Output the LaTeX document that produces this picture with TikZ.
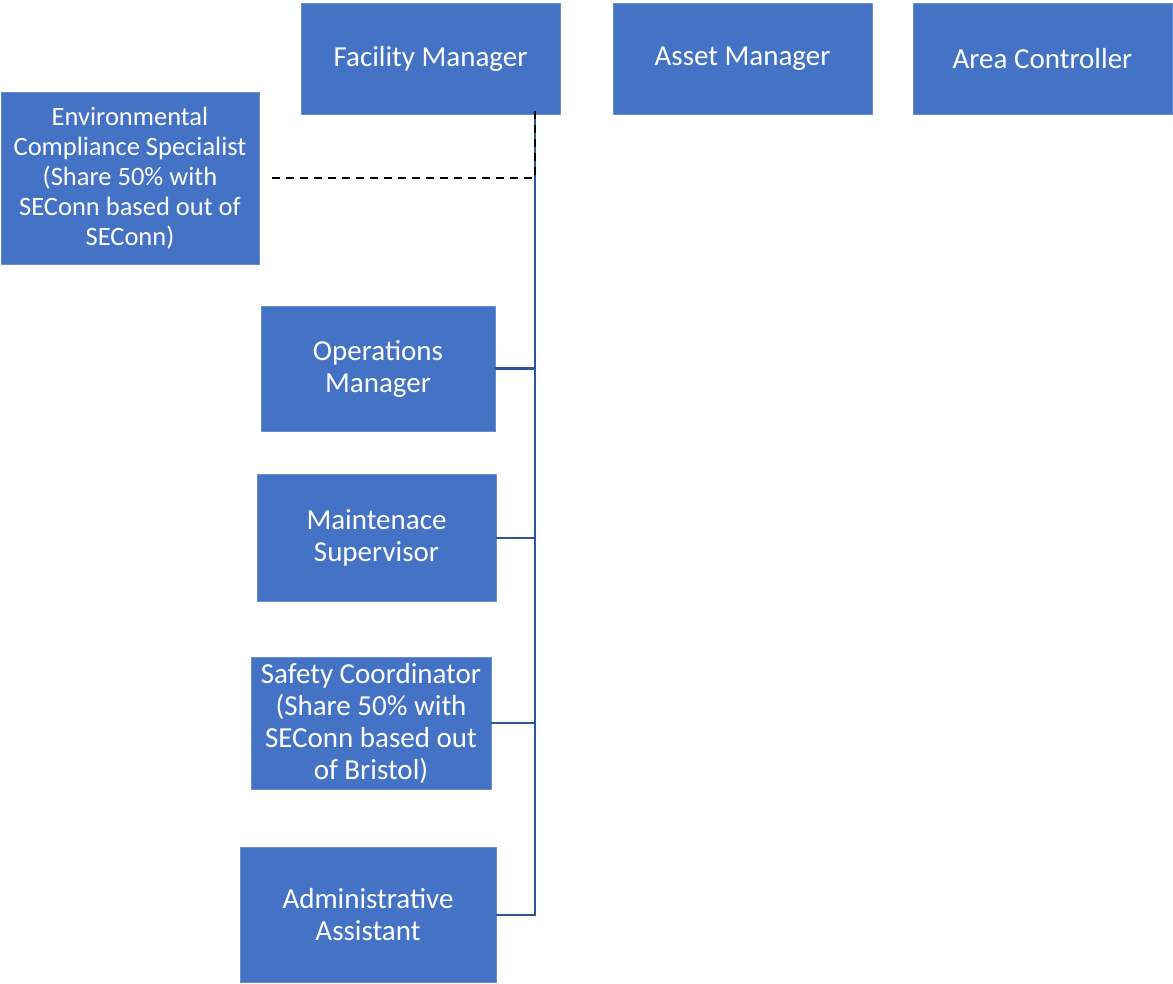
\documentclass[tikz,border=0pt]{standalone}
\usepackage{fontspec}
\setmainfont{Carlito}
\definecolor{boxblue}{HTML}{4472C4}
\definecolor{lineblue}{HTML}{2F5597}

\begin{document}
\begin{tikzpicture}[x=1pt,y=-1pt,
  role/.style={fill=boxblue,draw=boxblue!80!white,line width=0.6pt,text=white,align=center,inner sep=0pt,
    font=\fontsize{29}{32}\selectfont},
  link/.style={draw=lineblue,line width=2pt},
  shared/.style={draw=black,line width=1.5pt,dash pattern=on 8pt off 6pt}]
\useasboundingbox (0,0) rectangle (1173,984);
\node[role,minimum width=259pt,minimum height=111pt] (fm) at (430.5,58.5) {Facility Manager};
\node[role,minimum width=259pt,minimum height=111pt] (am) at (742.5,58.5) {Asset Manager};
\node[role,minimum width=259pt,minimum height=111pt] (ac) at (1042.5,58.5) {Area Controller};
\node[role,minimum width=258pt,minimum height=172pt,font=\fontsize{26.5}{30}\selectfont] (env) at (130,178) {Environmental\\Compliance Specialist\\(Share 50\% with\\SEConn based out of\\SEConn)};
\node[role,minimum width=234pt,minimum height=125pt] (ops) at (378,368.5) {Operations\\Manager};
\node[role,minimum width=239pt,minimum height=127pt] (mnt) at (376.5,537.5) {Maintenace\\Supervisor};
\node[role,minimum width=240pt,minimum height=132pt] (safe) at (371,723) {Safety Coordinator\\(Share 50\% with\\SEConn based out\\of Bristol)};
\node[role,minimum width=256pt,minimum height=135pt] (adm) at (368,914.5) {Administrative\\Assistant};
\coordinate (trunk) at (535,114);
% reporting lines
\draw[link] (trunk) |- (adm.east);
\draw[link] (ops.east) -- (ops.east -| trunk);
\draw[link] (mnt.east) -- (mnt.east -| trunk);
\draw[link] (safe.east) -- (safe.east -| trunk);
% shared position
\draw[shared] ([yshift=3pt]trunk) |- ([xshift=9pt]env.east);
\end{tikzpicture}
\end{document}
